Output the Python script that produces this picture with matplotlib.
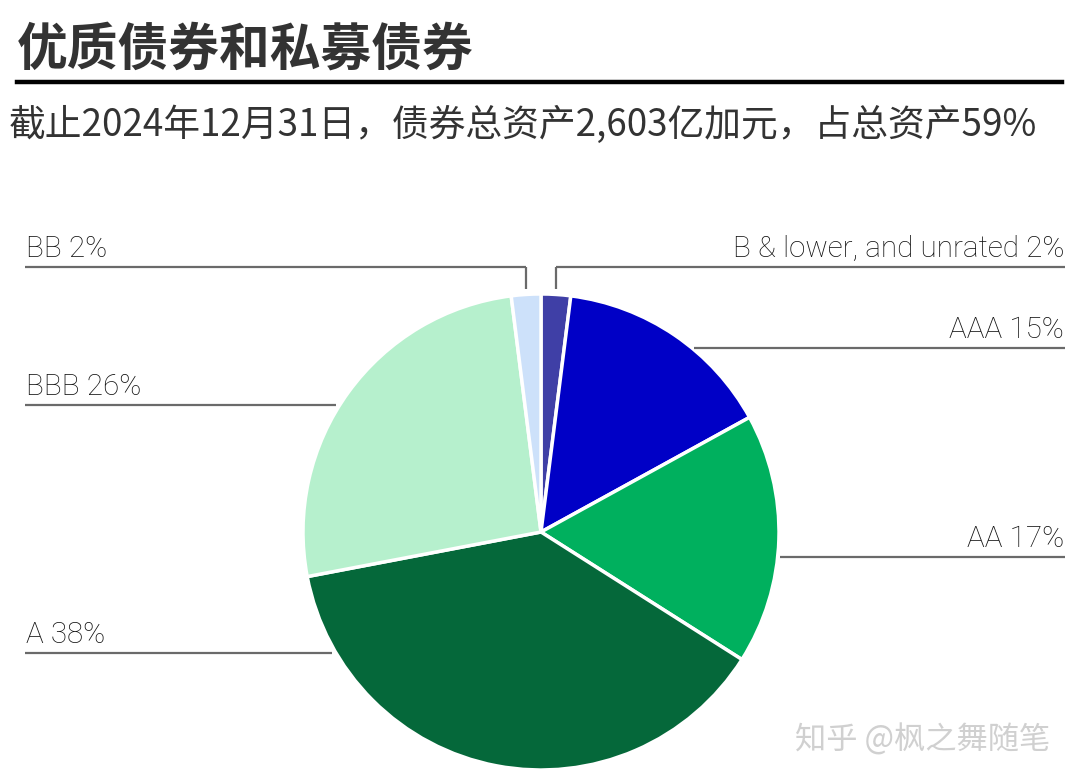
import numpy as np
import matplotlib
matplotlib.use("Agg")
import matplotlib.pyplot as plt

# ---- data ----
categories = ["B & lower, and unrated", "AAA", "AA", "A", "BBB", "BB"]
shares = [2, 15, 17, 38, 26, 2]
colors = ["#3f3fa6", "#0000c6", "#00b05e", "#05683a", "#b6f0cd", "#cde1fa"]
title = "优质债券和私募债券"
subtitle = "截止2024年12月31日，债券总资产2,603亿加元，占总资产59%"
watermark = "知乎 @枫之舞随笔"

# ---- layout (pixels) ----
W, H = 1080, 784
CX, CY, R = 541, 532, 238
label_y = {"B & lower, and unrated": 267, "AAA": 348, "AA": 557,
           "A": 653, "BBB": 405, "BB": 267}
label_side = {"B & lower, and unrated": "R", "AAA": "R", "AA": "R",
              "A": "L", "BBB": "L", "BB": "L"}
LEFT_X, RIGHT_X = 25, 1065

def dx(px):
    return (px - CX) / R

def dy(py):
    return (CY - py) / R

fig = plt.figure(figsize=(W / 100, H / 100), dpi=100)
fig.patch.set_facecolor("white")
ax = fig.add_axes([0, 0, 1, 1])

wedges, _ = ax.pie(shares, colors=colors, startangle=90, counterclock=False,
                   radius=1.0, wedgeprops=dict(edgecolor="white", linewidth=2.5))
ax.set_xlim(dx(0), dx(W))
ax.set_ylim(dy(H), dy(0))
ax.set_aspect("equal")
ax.axis("off")

label_font = dict(family=["Roboto", "DejaVu Sans"], weight="light",
                  fontsize=21.3, color="#111111")
line_kw = dict(color="#6a6a6a", lw=1.6, solid_capstyle="butt")

for w, cat, val in zip(wedges, categories, shares):
    mid = np.deg2rad((w.theta1 + w.theta2) / 2)
    mx, my = np.cos(mid), np.sin(mid)
    ly = dy(label_y[cat])
    side = label_side[cat]
    text = f"{cat} {val}%"
    if ly > 1.0:
        ax.plot([mx, mx], [ly, 1.02], **line_kw)
        if side == "L":
            ax.plot([dx(LEFT_X), mx], [ly, ly], **line_kw)
        else:
            ax.plot([mx, dx(RIGHT_X)], [ly, ly], **line_kw)
    else:
        ex = np.sqrt(1 - ly ** 2)
        if side == "L":
            ax.plot([dx(LEFT_X), -ex - 0.015], [ly, ly], **line_kw)
        else:
            ax.plot([ex + 0.01, dx(RIGHT_X)], [ly, ly], **line_kw)
    if side == "L":
        ax.text(dx(LEFT_X + 1), ly + 0.018, text, ha="left", va="bottom", **label_font)
    else:
        ax.text(dx(RIGHT_X - 1), ly + 0.018, text, ha="right", va="bottom", **label_font)

cjk = ["Noto Sans CJK SC", "DejaVu Sans"]
fig.text(17 / W, 1 - 50 / H, title, ha="left", va="center", fontsize=36.5,
         fontweight="bold", color="#333333", family=cjk)
fig.add_artist(plt.Line2D([17 / W, 1062 / W], [1 - 81.5 / H, 1 - 81.5 / H],
                          color="black", lw=3.2, transform=fig.transFigure))
fig.text(9 / W, 1 - 125 / H, subtitle, ha="left", va="center", fontsize=26.5,
         color="#333333", family=cjk)
fig.text(1050 / W, 1 - 740 / H, watermark, ha="right", va="center", fontsize=22.5,
         color="#d0d0d0", family=cjk)

fig.savefig("out.png", dpi=100, facecolor="white")
